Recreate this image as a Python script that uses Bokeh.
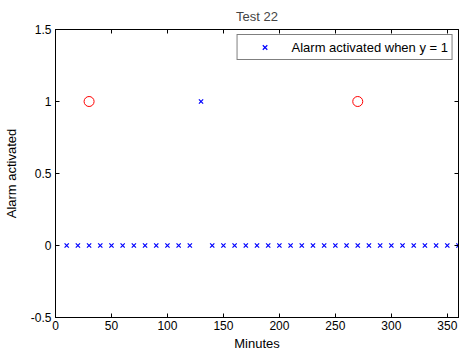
from bokeh.plotting import figure
from bokeh.models import Range1d, FixedTicker, LinearAxis, Legend, LegendItem, CustomJSTickFormatter
from bokeh.embed import file_html
from bokeh.resources import INLINE

# data
zero_minutes = [10, 20, 30, 40, 50, 60, 70, 80, 90, 100, 110, 120,
                140, 150, 160, 170, 180, 190, 200, 210, 220, 230, 240, 250,
                260, 270, 280, 290, 300, 310, 320, 330, 340, 350, 360]
zero_values = [0] * len(zero_minutes)
alarm_minutes = [130]
alarm_values = [1]
circle_minutes = [30, 270]
circle_values = [1, 1]
x_ticks = [0, 50, 100, 150, 200, 250, 300, 350]
y_ticks = [-0.5, 0, 0.5, 1, 1.5]

FONT = "Liberation Sans"

p = figure(width=459, height=353, output_backend="svg", toolbar_location=None,
           x_range=Range1d(0, 360), y_range=Range1d(-0.5, 1.5),
           min_border_left=54, min_border_right=1, min_border_top=26,
           min_border_bottom=32)
p.title.text = "Test 22"
p.title.align = "center"
p.title.text_font = FONT
p.title.text_font_size = "13px"
p.title.text_font_style = "normal"
p.title.standoff = 12
p.title.offset = 0

p.grid.visible = False
p.outline_line_color = "black"
p.outline_line_width = 1
p.background_fill_color = "white"
p.border_fill_color = "white"

p.xaxis.ticker = FixedTicker(ticks=x_ticks)
p.yaxis.ticker = FixedTicker(ticks=y_ticks)
p.yaxis.major_label_overrides = {-0.5: "-0.5", 0: "0", 0.5: "0.5", 1: "1", 1.5: "1.5"}
for ax in (p.xaxis[0], p.yaxis[0]):
    ax.major_tick_in = 4
    ax.major_tick_out = 0
    ax.minor_tick_in = 0
    ax.minor_tick_out = 0
    ax.major_label_text_font = FONT
    ax.major_label_text_font_size = "12px"
    ax.major_label_text_color = "black"
    ax.axis_label_text_font = FONT
    ax.axis_label_text_font_size = "13px"
    ax.axis_label_text_font_style = "normal"
    ax.axis_label_text_color = "black"
    ax.axis_line_color = "black"
    ax.major_tick_line_color = "black"
p.xaxis.axis_label = "Minutes"
p.yaxis.axis_label = "Alarm activated"
p.xaxis.major_label_standoff = 3
p.xaxis.axis_label_standoff = 3
p.yaxis.major_label_standoff = 4
p.yaxis.axis_label_standoff = 9

blank = CustomJSTickFormatter(code="return ''")
top = LinearAxis(ticker=FixedTicker(ticks=x_ticks), formatter=blank,
                 major_tick_in=4, major_tick_out=0,
                 minor_tick_in=0, minor_tick_out=0, major_label_text_color=None,
                 major_label_text_font_size="1px", major_label_standoff=0)
right = LinearAxis(ticker=FixedTicker(ticks=y_ticks), formatter=blank,
                   major_tick_in=4, major_tick_out=0,
                   minor_tick_in=0, minor_tick_out=0, major_label_text_color=None,
                   major_label_text_font_size="1px", major_label_standoff=0)
p.add_layout(top, "above")
p.add_layout(right, "right")

r_zero = p.scatter(zero_minutes, zero_values, marker="x", size=6, line_color="blue", line_width=1.2)
r_alarm = p.scatter(alarm_minutes, alarm_values, marker="x", size=6, line_color="blue", line_width=1.2)
p.scatter(circle_minutes, circle_values, marker="circle", size=10, line_color="red",
          fill_color=None, line_width=1)

legend = Legend(items=[LegendItem(label="Alarm activated when y = 1", renderers=[r_zero])],
                location="top_right", border_line_color="black", border_line_width=1,
                label_text_font=FONT, label_text_font_size="13px",
                glyph_width=46, glyph_height=16, label_standoff=4,
                padding=4, margin=5, spacing=0, label_height=16)
legend.label_text_color = "black"
p.add_layout(legend, "center")

open("out.html", "w").write(file_html(p, INLINE))
